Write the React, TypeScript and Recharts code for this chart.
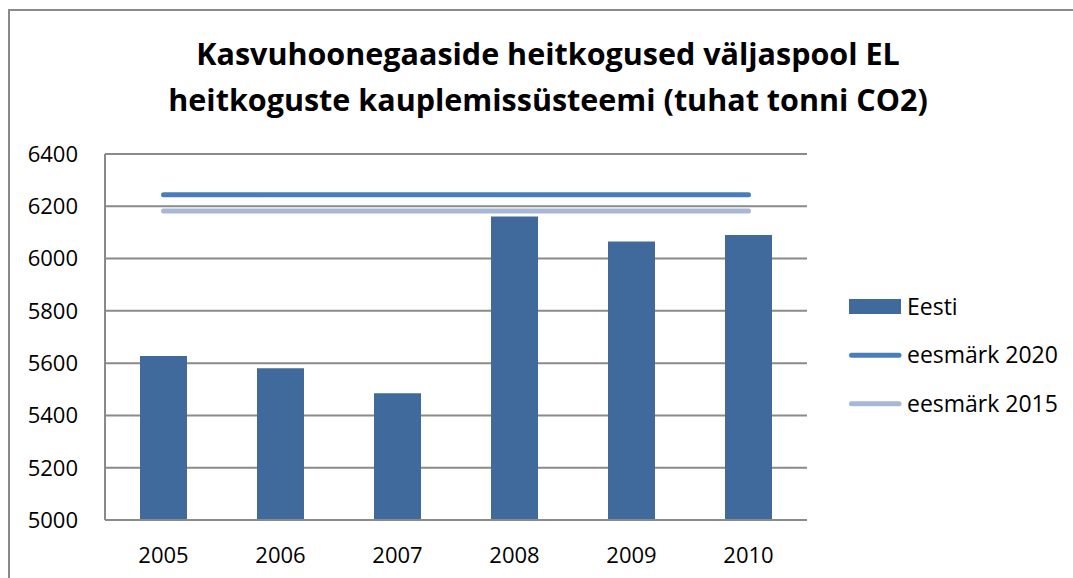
import React from 'react';
import { ComposedChart, Bar, Line, XAxis, YAxis, CartesianGrid } from 'recharts';

const years = ['2005', '2006', '2007', '2008', '2009', '2010'];
const eesti = [5627, 5580, 5485, 6161, 6065, 6090];
const target2020 = [6244, 6244, 6244, 6244, 6244, 6244];
const target2015 = [6182, 6182, 6182, 6182, 6182, 6182];
const yTicks = [5000, 5200, 5400, 5600, 5800, 6000, 6200, 6400];
const titleLines = ['Kasvuhoonegaaside heitkogused väljaspool EL', 'heitkoguste kauplemissüsteemi (tuhat tonni CO2)'];
const seriesNames = ['Eesti', 'eesmärk 2020', 'eesmärk 2015'];
const colors = { bar: '#406A9B', l2020: '#4A7EBB', l2015: '#A6B8D6', grid: '#8A8A8A' };

const data = years.map((y, i) => ({
  year: y,
  eesti: eesti[i],
  t2020: target2020[i],
  t2015: target2015[i],
}));

const FONT = '"Open Sans", sans-serif';

export default function App() {
  return (
    <div
      style={{
        position: 'fixed',
        left: 8,
        top: 9,
        width: 1065,
        height: 569,
        borderTop: `2px solid ${colors.grid}`,
        borderLeft: `2px solid ${colors.grid}`,
        boxSizing: 'border-box',
        background: '#fff',
        overflow: 'hidden',
      }}
    >
      <div style={{ position: 'absolute', left: 0, top: 0 }}>
        <ComposedChart
          width={1063}
          height={567}
          data={data}
          margin={{ top: 143, right: 266, left: 0, bottom: 18 }}
        >
          <CartesianGrid vertical={false} stroke={colors.grid} strokeWidth={2} />
          <XAxis
            dataKey="year"
            height={40}
            tickLine={false}
            tickSize={0}
            tickMargin={27}
            axisLine={{ stroke: colors.grid, strokeWidth: 2 }}
            tick={{ fill: '#000', fontSize: 22, fontFamily: FONT }}
          />
          <YAxis
            width={95}
            domain={[5000, 6400]}
            ticks={yTicks}
            interval={0}
            tickLine={false}
            tickSize={0}
            tickMargin={27}
            axisLine={{ stroke: colors.grid, strokeWidth: 2 }}
            tick={{ fill: '#000', fontSize: 22, fontFamily: FONT }}
          />
          <Bar dataKey="eesti" name={seriesNames[0]} fill={colors.bar} barSize={47} isAnimationActive={false} />
          <Line
            dataKey="t2020"
            name={seriesNames[1]}
            type="linear"
            stroke={colors.l2020}
            strokeWidth={5}
            strokeLinecap="round"
            dot={false}
            activeDot={false}
            isAnimationActive={false}
          />
          <Line
            dataKey="t2015"
            name={seriesNames[2]}
            type="linear"
            stroke={colors.l2015}
            strokeWidth={5}
            strokeLinecap="round"
            dot={false}
            activeDot={false}
            isAnimationActive={false}
          />
        </ComposedChart>
      </div>
      <svg
        width={1063}
        height={567}
        style={{ position: 'absolute', left: 0, top: 0, pointerEvents: 'none' }}
      >
        <text x={538} y={54} textAnchor="middle" fontFamily={FONT} fontWeight="bold" fontSize={30.5} fill="#000">
          {titleLines[0]}
        </text>
        <text x={538} y={100} textAnchor="middle" fontFamily={FONT} fontWeight="bold" fontSize={30.5} fill="#000">
          {titleLines[1]}
        </text>
        <rect x={839} y={288} width={52} height={15} fill={colors.bar} />
        <text x={897} y={304} fontFamily={FONT} fontSize={23} fill="#000">{seriesNames[0]}</text>
        <line x1={841.5} x2={889} y1={344.3} y2={344.3} stroke={colors.l2020} strokeWidth={5} strokeLinecap="round" />
        <text x={897} y={352} fontFamily={FONT} fontSize={23} fill="#000">{seriesNames[1]}</text>
        <line x1={841.5} x2={889} y1={392.7} y2={392.7} stroke={colors.l2015} strokeWidth={5} strokeLinecap="round" />
        <text x={897} y={401} fontFamily={FONT} fontSize={23} fill="#000">{seriesNames[2]}</text>
      </svg>
    </div>
  );
}
